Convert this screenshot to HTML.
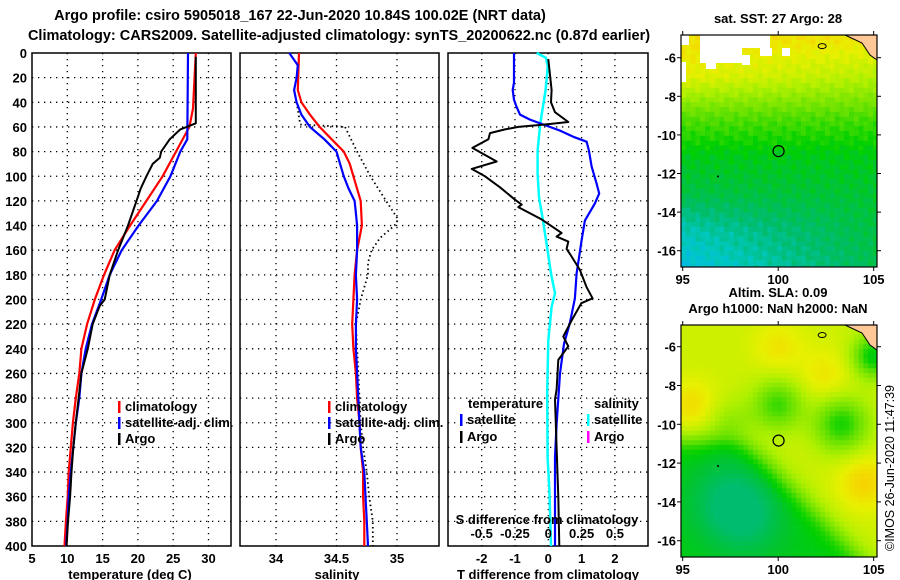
<!DOCTYPE html>
<html><head><meta charset="utf-8"><style>
html,body{margin:0;padding:0;background:#fff;}
svg{display:block;font-family:"Liberation Sans",Arial,sans-serif;font-weight:bold;}
</style></head><body>
<svg id="c" width="900" height="580" viewBox="0 0 900 580" xmlns="http://www.w3.org/2000/svg"></svg>
<script>
// ---- data ----
const depthTicks=[0,20,40,60,80,100,120,140,160,180,200,220,240,260,280,300,320,340,360,380,400];
const tempTicks=[5,10,15,20,25,30];
const salTicks=[34,34.5,35];
const salTickLabels=["34","34.5","35"];
const dtTicks=[-2,-1,0,1,2];
const dsTicks=[-0.5,-0.25,0,0.25,0.5];
const dsTickLabels=["-0.5","-0.25","0","0.25","0.5"];

const climTDepth=[0,45,60,80,100,120,140,160,180,200,220,240,260,280,300,320,340,360,380,400];
const climT=[28.2,27.8,27.3,25.4,23.5,21.2,18.9,16.7,15.2,13.9,12.8,12.0,11.7,11.2,10.8,10.5,10.2,10.05,9.8,9.6];
const satTDepth=[0,70,80,100,120,140,160,180,200,220,240,260,280,300,320,340,360,380,400];
const satT=[27.1,27.0,26.0,24.6,22.7,20.1,17.7,16.0,14.8,13.5,12.6,12.0,11.7,11.2,10.85,10.5,10.2,10.05,9.85];
const argoTDepth=[3,57,60,62,70,80,85,90,100,110,120,140,160,180,200,205,220,240,260,280,300,320,340,360,380,400];
const argoT=[28.2,28.2,26.9,26.0,24.5,23.3,23.1,22.1,21.2,20.4,19.8,18.6,17.2,16.0,15.3,14.6,13.6,12.9,12.0,11.6,11.2,10.85,10.6,10.4,10.1,9.9];

const climSDepth=[0,30,40,50,60,70,80,90,100,120,140,160,180,200,220,240,260,280,300,320,340,360,380,400];
const climS=[34.19,34.18,34.21,34.28,34.36,34.46,34.56,34.61,34.64,34.70,34.71,34.67,34.65,34.64,34.63,34.64,34.66,34.67,34.69,34.70,34.72,34.72,34.73,34.73];
const satSDepth=[0,10,20,30,40,50,60,70,80,90,100,110,120,130,140,160,180,200,220,240,260,280,300,320,340,360,380,400];
const satS=[34.11,34.18,34.17,34.15,34.17,34.21,34.28,34.40,34.50,34.53,34.56,34.60,34.65,34.66,34.67,34.67,34.66,34.67,34.66,34.66,34.67,34.68,34.69,34.70,34.73,34.74,34.75,34.76];
const argoSDepth=[40,58,60,80,100,120,135,140,150,160,170,180,190,200,220,240,260,280,300,320,340,360,380,400];
const argoS=[34.17,34.20,34.57,34.67,34.78,34.91,35.01,34.98,34.86,34.79,34.76,34.76,34.73,34.70,34.66,34.67,34.68,34.69,34.70,34.72,34.75,34.77,34.80,34.80];

const satDTDepth=[0,24,30,38,44,50,54,58,63,68,72,79,92,106,114,122,136,152,179,199,219,236,260,301,328,400];
const satDT=[-1.03,-1.03,-1.07,-1.03,-0.95,-0.85,-0.55,-0.15,0.35,0.75,1.15,1.22,1.3,1.45,1.53,1.4,1.1,1.0,0.85,0.8,0.65,0.47,0.35,0.25,0.2,0.2];
const argoDTDepth=[5,30,40,48,56,58,60,62,65,70,77,88,94,100,109,119,123,125,135,146,149,153,159,163,176,190,199,203,217,230,238,249,273,281,320,360,400];
const argoDT=[0,0.1,0.08,0.2,0.6,-0.1,-0.9,-1.3,-1.75,-1.8,-2.28,-1.55,-2.3,-1.9,-1.45,-1.0,-0.8,-0.9,-0.2,0.4,0.25,0.6,0.55,0.65,0.95,1.15,1.33,0.99,0.7,0.45,0.6,0.3,0.25,0.2,0.25,0.3,0.33];
const satDSDepth=[0,4,11,30,57,79,98,117,136,157,179,195,206,233,274,328,355,400];
const satDS=[-0.087,-0.017,-0.004,-0.02,-0.06,-0.08,-0.08,-0.07,-0.04,-0.01,0.02,0.05,0.025,0,-0.008,-0.005,0.008,0.02];

const lonTicks=[95,100,105];
const latTicks=[-6,-8,-10,-12,-14,-16];
const argoLon=100.02, argoLat=-10.84;

// ---- helpers ----
const NS="http://www.w3.org/2000/svg";
const svg=document.getElementById('c');
function el(tag,attrs,parent){const e=document.createElementNS(NS,tag);for(const k in attrs)e.setAttribute(k,attrs[k]);(parent||svg).appendChild(e);return e;}
function txt(x,y,s,anchor,size,parent){const t=el('text',{x:x,y:y,'text-anchor':anchor||'middle','font-size':size||13,fill:'#000'},parent);t.textContent=s;return t;}

const yD=d=>53+d*1.2325;
const p1x=T=>32+(T-5)*7.06;
const p2x=S=>276+(S-34)*121;
const p3x=t=>548.3+t*33.3;
const p3s=s=>548.3+s*133.3;

function panel(x0,x1,vx,name){
  const g=el('g',{});
  
  
  depthTicks.slice(1,-1).forEach(d=>{
    const l=el('line',{x1:x0,x2:x1,y1:yD(d),y2:yD(d),stroke:'#000','stroke-width':1.3,'stroke-dasharray':'1.3,4.7'},g);
    
    
  });
  vx.forEach(x=>{
    const l=el('line',{x1:x,x2:x,y1:53,y2:546,stroke:'#000','stroke-width':1.3,'stroke-dasharray':'1.3,4.7'},g);
    
    
  });
  const r=el('rect',{x:x0,y:53,width:x1-x0,height:493,fill:'none',stroke:'#000','stroke-width':1.5},g);
  
  
  return g;
}
function line(depths,vals,fx,color,w,name,dash){
  const pts=depths.map((d,i)=>fx(vals[i]).toFixed(1)+','+yD(d).toFixed(1)).join(' ');
  const a={points:pts,fill:'none',stroke:color,'stroke-width':w,'stroke-linejoin':'round'};
  if(dash)a['stroke-dasharray']=dash;
  const p=el('polyline',a);
  
  
  return p;
}
function legendEntry(x,y,color,label,name){
  const g=el('g',{});
  
  
  el('rect',{x:x,y:y-10,width:2.5,height:12,fill:color},g);
  txt(x+7,y,label,'start',13,g);
}

// titles
const t1=txt(300,20,'Argo profile: csiro 5905018_167 22-Jun-2020 10.84S 100.02E (NRT data)','middle',14.5);


const t2=txt(339,40,'Climatology: CARS2009. Satellite-adjusted climatology: synTS_20200622.nc (0.87d earlier)','middle',14.5);



// panel 1 temperature
panel(32,231,tempTicks.slice(1).map(p1x),'temperature-panel');
depthTicks.forEach(d=>{const t=txt(27,yD(d)+5,String(d),'end',13);
  
  });
tempTicks.forEach(v=>{const t=txt(p1x(v),563,String(v),'middle',13);
  
  });
const ax1=txt(130,579,'temperature (deg C)','middle',13);


line(climTDepth,climT,p1x,'#ff0000',2.2,'temperature-climatology-line');
line(satTDepth,satT,p1x,'#0000ff',2.2,'temperature-satellite-line');
line(argoTDepth,argoT,p1x,'#000000',2,'temperature-argo-line');
legendEntry(118,411,'#ff0000','climatology','legend-climatology');
legendEntry(118,427,'#0000ff','satellite-adj. clim.','legend-satellite');
legendEntry(118,443,'#000000','Argo','legend-argo');

// panel 2 salinity
panel(240,439,salTicks.map(p2x),'salinity-panel');
salTicks.forEach((v,i)=>{const t=txt(p2x(v),563,salTickLabels[i],'middle',13);
  
  });
const ax2=txt(337,579,'salinity','middle',13);


line(argoSDepth,argoS,p2x,'#000000',1.8,'salinity-argo-line','1.5,3');
line(climSDepth,climS,p2x,'#ff0000',2.2,'salinity-climatology-line');
line(satSDepth,satS,p2x,'#0000ff',2.2,'salinity-satellite-line');
legendEntry(328,411,'#ff0000','climatology','legend-climatology-salinity');
legendEntry(328,427,'#0000ff','satellite-adj. clim.','legend-satellite-salinity');
legendEntry(328,443,'#000000','Argo','legend-argo-salinity');

// panel 3 differences
panel(448,648,dtTicks.map(p3x),'difference-panel');
line(satDSDepth,satDS,p3s,'#00ffff',2.5,'salinity-difference-satellite-line');
line(satDTDepth,satDT,p3x,'#0000ff',2.2,'temperature-difference-satellite-line');
line(argoDTDepth,argoDT,p3x,'#000000',2,'temperature-difference-argo-line');
const lt=txt(468,408,'temperature','start',13);


const ls=txt(594,408,'salinity','start',13);


legendEntry(460,424,'#0000ff','satellite','legend-t-satellite');
legendEntry(460,441,'#000000','Argo','legend-t-argo');
legendEntry(587,424,'#00ffff','satellite','legend-s-satellite');
legendEntry(587,441,'#ff00ff','Argo','legend-s-argo');
const sdt=txt(547,524,'S difference from climatology','middle',13);


dsTicks.forEach((v,i)=>{const t=txt(p3s(v),538,dsTickLabels[i],'middle',13);
  
  });
dtTicks.forEach(v=>{const t=txt(p3x(v),563,String(v),'middle',13);
  
  });
const ax3=txt(548,579,'T difference from climatology','middle',13);



// ---- maps ----
const stops=[[0.25,[0,184,232]],[0.32,[0,200,192]],[0.40,[0,188,110]],[0.47,[0,196,50]],[0.52,[0,208,0]],[0.62,[96,224,0]],[0.75,[176,240,0]],[0.85,[232,240,0]],[0.93,[248,208,0]],[1.0,[255,176,0]]];
function cmap(v){
  if(v<=stops[0][0])return stops[0][1];
  for(let i=1;i<stops.length;i++){if(v<=stops[i][0]){const a=stops[i-1],b=stops[i],f=(v-a[0])/(b[0]-a[0]);return a[1].map((c,k)=>Math.round(c+(b[1][k]-c)*f));}}
  return stops[stops.length-1][1];
}
function interp(xs,ys,x){if(x<=xs[0])return ys[0];for(let i=1;i<xs.length;i++)if(x<=xs[i]){const f=(x-xs[i-1])/(xs[i]-xs[i-1]);return ys[i-1]+(ys[i]-ys[i-1])*f;}return ys[ys.length-1];}
const sstLatAbs=[4.7,7,9,11,13,15,17];
const sstLeft=[0.9,0.84,0.62,0.5,0.45,0.33,0.27];
const sstRight=[0.9,0.76,0.6,0.5,0.47,0.45,0.43];
function sstField(lon,lat){
  const f=(lon-95)/10;
  const a=interp(sstLatAbs,sstLeft,-lat), b=interp(sstLatAbs,sstRight,-lat);
  return a+(b-a)*f+0.03*Math.sin(lon*7.1+lat*3.3)*Math.cos(lon*2.3-lat*5.7);
}
const slaBlobs=[[97.5,-14,0.25,-0.1],[98.5,-15,0.3,-0.06],[100,-9,0.6,-0.22],[103.3,-10,0.5,-0.26],[104.5,-13,0.5,0.12],[95.5,-9,0.6,0.1],[100,-6,0.6,0.08],[102.5,-7.5,0.5,0.08],[105,-6.5,0.8,-0.3],[97.5,-10,0.6,-0.1]];
const sig=x=>1/(1+Math.exp(-x));
function slaField(lon,lat){
  let v=0.8;
  slaBlobs.forEach(b=>{const dx=lon-b[0],dy=lat-b[1];v+=b[3]*Math.exp(-b[2]*(dx*dx+dy*dy));});
  const lb=98.5+(-lat-11)*1.0;
  v-=0.3*sig((-lat-10.8)*3)*sig((lb-lon)*2);
  return Math.max(0.4,Math.min(0.95,v));
}
function drawMap(top,bottom,lat6y,latScale,field,name,holes){
  const left=681,right=877;
  const g=el('g',{});
  
  
  const lonx=lon=>682.7+(lon-95)*19.1;
  const laty=lat=>lat6y+(-6-lat)*latScale;
  const cs=4.8;
  for(let y=top;y<bottom;y+=cs){for(let x=left;x<right;x+=cs){
    const lon=95+(x+cs/2-682.7)/19.1, lat=-6-(y+cs/2-lat6y)/latScale;
    const c=cmap(field(lon,lat));
    el('rect',{x:x.toFixed(1),y:y.toFixed(1),width:Math.min(cs,right-x)+0.3,height:Math.min(cs,bottom-y)+0.3,fill:`rgb(${c[0]},${c[1]},${c[2]})`},g);
  }}
  (holes||[]).forEach(h=>el('rect',{x:h[0],y:h[1],width:h[2],height:h[3],fill:'#fff'},g));
  el('polygon',{points:`845,${top} ${right},${top} ${right},${top+25} 870,${top+20} 862,${top+8}`,fill:'#ffc896',stroke:'#000','stroke-width':1},g);
  el('ellipse',{cx:lonx(102.3),cy:laty(-5.4),rx:4,ry:2.5,fill:'none',stroke:'#000','stroke-width':1},g);
  el('circle',{cx:lonx(96.85),cy:laty(-12.15),r:1,fill:'#000'},g);
  const ac=el('circle',{cx:lonx(argoLon),cy:laty(argoLat),r:5.5,fill:'none',stroke:'#000','stroke-width':1.2},g);
  
  
  el('rect',{x:left,y:top,width:right-left,height:bottom-top,fill:'none',stroke:'#000','stroke-width':1.2},g);
  latTicks.forEach(l=>{
    el('line',{x1:left-4,x2:left,y1:laty(l),y2:laty(l),stroke:'#000'},g);
    el('line',{x1:right,x2:right+4,y1:laty(l),y2:laty(l),stroke:'#000'},g);
    const t=txt(676,laty(l)+5,String(l),'end',13,g);
    
    
  });
  lonTicks.forEach(l=>{
    el('line',{x1:lonx(l),x2:lonx(l),y1:bottom,y2:bottom+4,stroke:'#000'},g);
    el('line',{x1:lonx(l),x2:lonx(l),y1:top-4,y2:top,stroke:'#000'},g);
    const t=txt(lonx(l),bottom+17,String(l),'middle',13,g);
    
    
  });
}
const m1=txt(778,23,'sat. SST: 27 Argo: 28','middle',13);


drawMap(35,267,57.7,19.3,sstField,'sst-map',[[700,35,42,28],[742,35,28,13],[681,35,8,10],[760,48,12,8],[782,48,8,8],[742,55,8,10],[706,63,10,6],[681,62,5,20]]);
const m2=txt(778,297,'Altim. SLA: 0.09','middle',13);


const m3=txt(778,313,'Argo h1000: NaN h2000: NaN','middle',13);


drawMap(325,557,346.7,19.4,slaField,'sla-map',[]);
const cp=el('text',{x:0,y:0,'text-anchor':'middle','font-size':12.5,'font-weight':'normal',transform:'translate(894,468) rotate(-90)',fill:'#000'});
cp.textContent='©IMOS 26-Jun-2020 11:47:39';


</script>
</body></html>
